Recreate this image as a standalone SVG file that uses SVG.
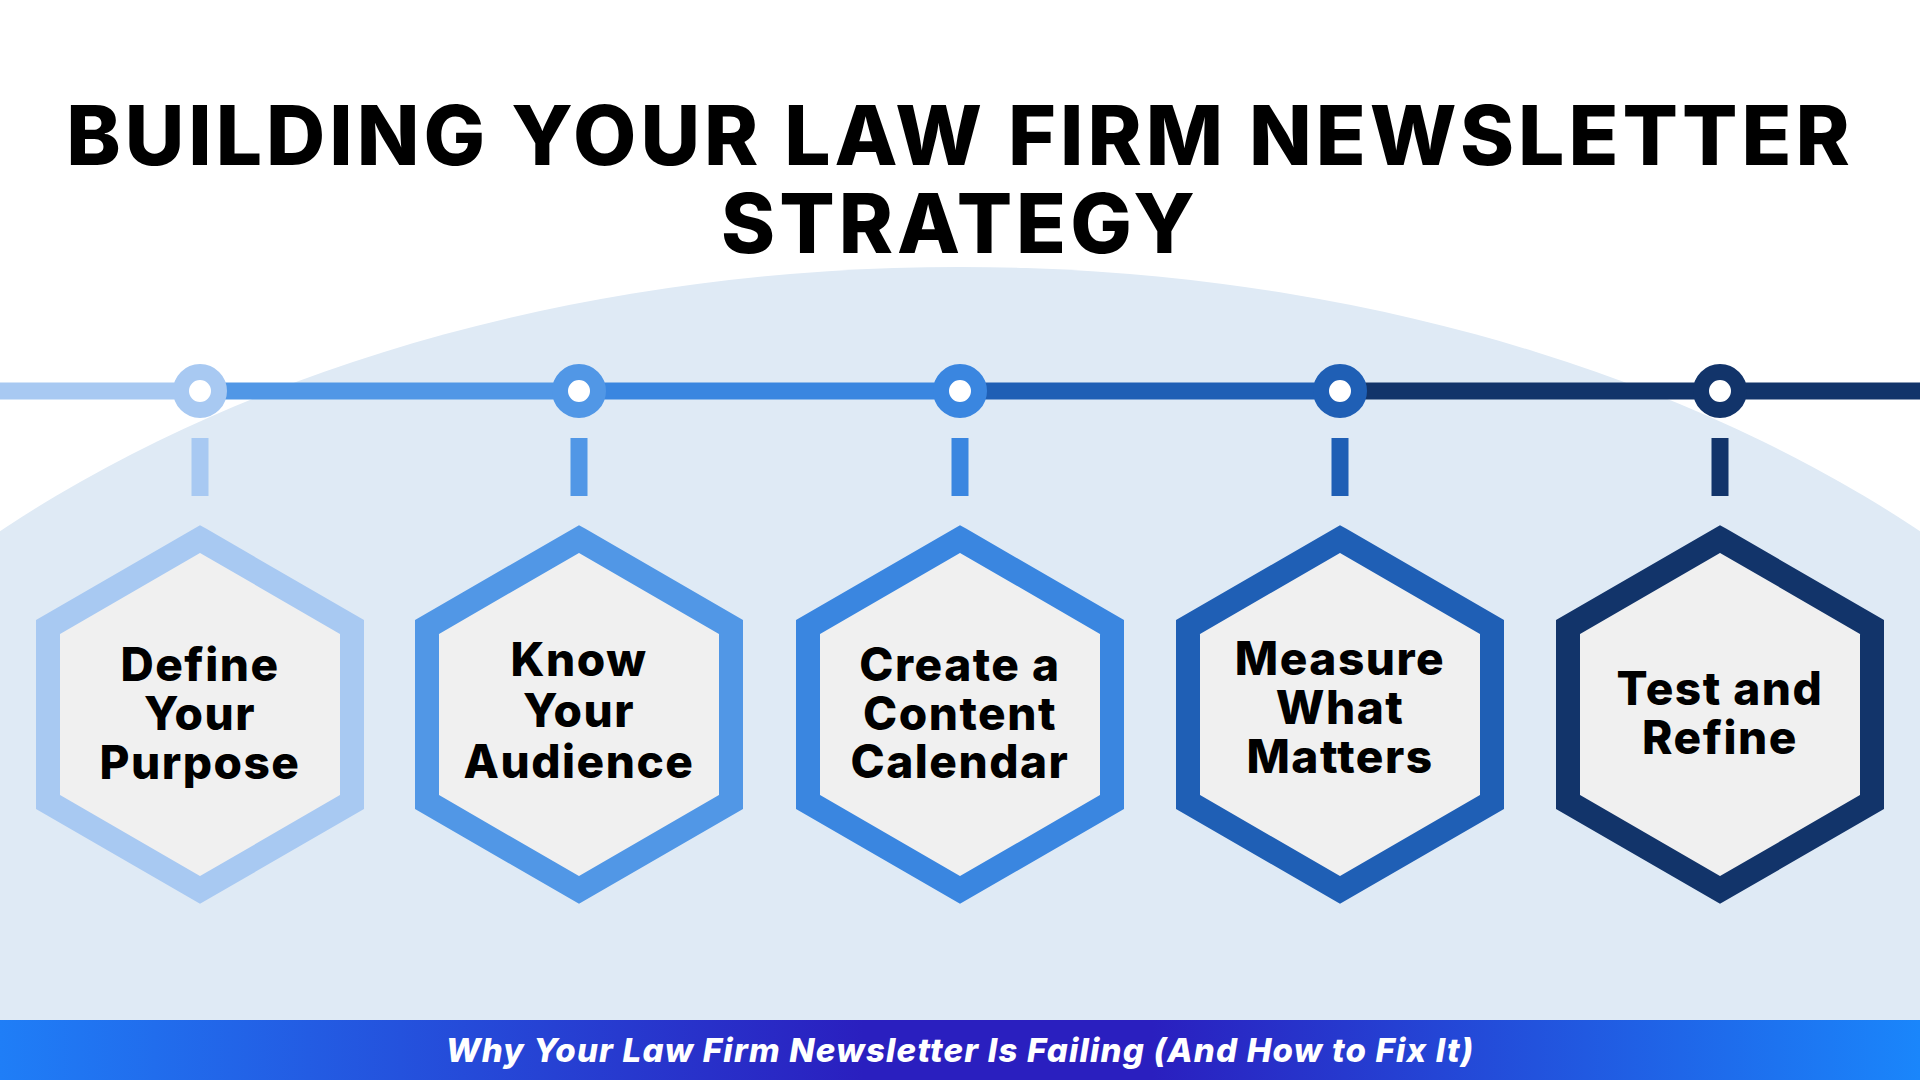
<svg xmlns="http://www.w3.org/2000/svg" width="1920" height="1080" viewBox="0 0 1920 1080">
<defs>
<linearGradient id="fg" x1="0" x2="1" y1="0" y2="0">
<stop offset="0" stop-color="#1f7ef7"/><stop offset="0.45" stop-color="#2a1fbf"/><stop offset="0.6" stop-color="#2a1fbf"/><stop offset="1" stop-color="#1a86fb"/>
</linearGradient>
<clipPath id="cp"><rect x="0" y="0" width="1920" height="1020"/></clipPath>
<style>
.t{font-family:Inter,"Liberation Sans",sans-serif;font-weight:800;fill:#000;text-anchor:middle;letter-spacing:4px}
.l{font-family:Inter,"Liberation Sans",sans-serif;font-weight:800;font-size:46px;fill:#000;text-anchor:middle;dominant-baseline:central;letter-spacing:1.5px}
.h{fill:#f0f0f0;stroke-width:24}
</style>
</defs>
<rect width="1920" height="1080" fill="#fff"/>
<ellipse cx="960" cy="1152" rx="1347" ry="885" fill="#dfeaf5" clip-path="url(#cp)"/>
<text class="t" x="960" y="165" font-size="82">BUILDING YOUR LAW FIRM NEWSLETTER</text>
<text class="t" x="960" y="253" font-size="82">STRATEGY</text>
<g id="connectors">
<line x1="0" y1="391" x2="200" y2="391" stroke="#a8c9f2" stroke-width="17"/>
<line x1="200" y1="391" x2="579" y2="391" stroke="#5197e6" stroke-width="17"/>
<line x1="579" y1="391" x2="960" y2="391" stroke="#3a86e0" stroke-width="17"/>
<line x1="960" y1="391" x2="1340" y2="391" stroke="#1f5fb5" stroke-width="17"/>
<line x1="1340" y1="391" x2="1920" y2="391" stroke="#12346a" stroke-width="17"/>
<g stroke-width="17">
<line x1="200" y1="438" x2="200" y2="496" stroke="#a8c9f2"/>
<line x1="579" y1="438" x2="579" y2="496" stroke="#5197e6"/>
<line x1="960" y1="438" x2="960" y2="496" stroke="#3a86e0"/>
<line x1="1340" y1="438" x2="1340" y2="496" stroke="#1f5fb5"/>
<line x1="1720" y1="438" x2="1720" y2="496" stroke="#12346a"/>
</g>
<g fill="#fff" stroke-width="16">
<circle cx="200" cy="391" r="19" stroke="#a8c9f2"/>
<circle cx="579" cy="391" r="19" stroke="#5197e6"/>
<circle cx="960" cy="391" r="19" stroke="#3a86e0"/>
<circle cx="1340" cy="391" r="19" stroke="#1f5fb5"/>
<circle cx="1720" cy="391" r="19" stroke="#12346a"/>
</g>
</g>
<g id="n1"><polygon class="h" stroke="#a8c9f2" points="200,539 352,627 352,802 200,890 48,802 48,627"/>
<text class="l" x="200" y="664">Define</text><text class="l" x="200" y="713">Your</text><text class="l" x="200" y="762">Purpose</text></g>
<g id="n2"><polygon class="h" stroke="#5197e6" points="579,539 731,627 731,802 579,890 427,802 427,627"/>
<text class="l" x="579" y="659">Know</text><text class="l" x="579" y="710">Your</text><text class="l" x="579" y="761">Audience</text></g>
<g id="n3"><polygon class="h" stroke="#3a86e0" points="960,539 1112,627 1112,802 960,890 808,802 808,627"/>
<text class="l" x="960" y="664">Create a</text><text class="l" x="960" y="713">Content</text><text class="l" x="960" y="761">Calendar</text></g>
<g id="n4"><polygon class="h" stroke="#1f5fb5" points="1340,539 1492,627 1492,802 1340,890 1188,802 1188,627"/>
<text class="l" x="1340" y="658">Measure</text><text class="l" x="1340" y="707">What</text><text class="l" x="1340" y="756">Matters</text></g>
<g id="n5"><polygon class="h" stroke="#12346a" points="1720,539 1872,627 1872,802 1720,890 1568,802 1568,627"/>
<text class="l" x="1720" y="688">Test and</text><text class="l" x="1720" y="737">Refine</text></g>
<rect x="0" y="1020" width="1920" height="60" fill="url(#fg)"/>
<text x="960" y="1050" font-family="Inter,'Liberation Sans',sans-serif" font-weight="800" font-style="italic" font-size="33" letter-spacing="1.2" fill="#fff" text-anchor="middle" dominant-baseline="central">Why Your Law Firm Newsletter Is Failing (And How to Fix It)</text>
</svg>
